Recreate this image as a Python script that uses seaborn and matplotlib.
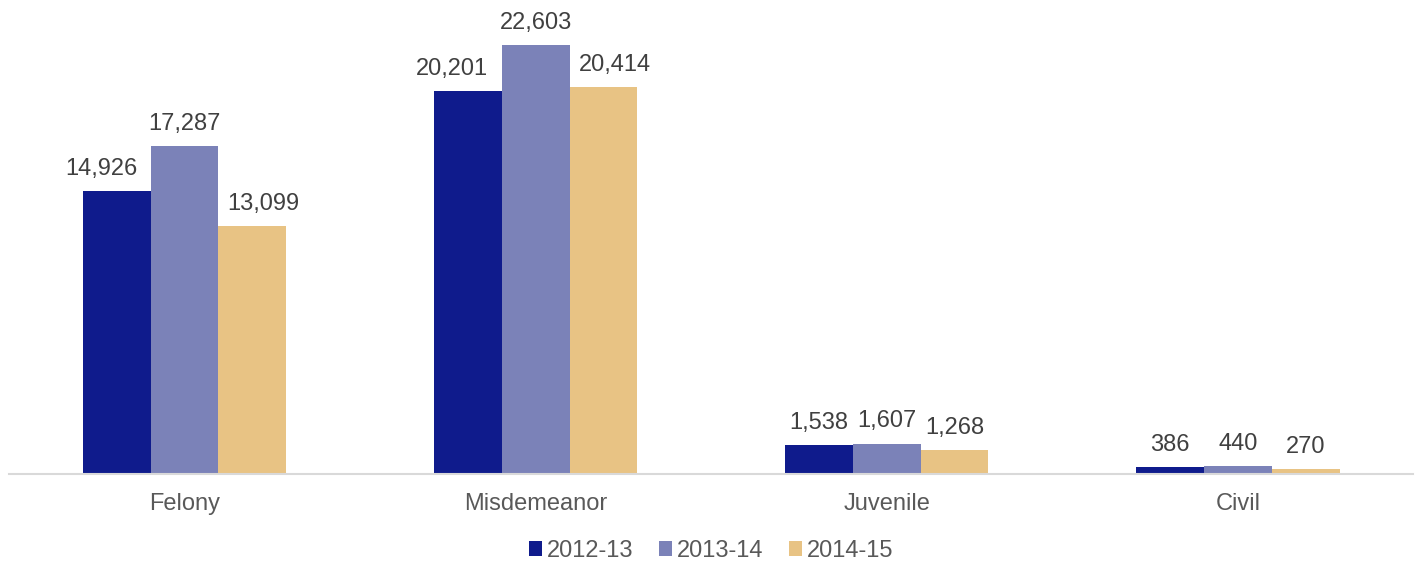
import pandas as pd
import matplotlib.pyplot as plt
import seaborn as sns

# Case counts by type and fiscal year
categories = ['Felony', 'Misdemeanor', 'Juvenile', 'Civil']
years = ['2012-13', '2013-14', '2014-15']
fy2012 = [14926, 20201, 1538, 386]
fy2013 = [17287, 22603, 1607, 440]
fy2014 = [13099, 20414, 1268, 270]
colors = ['#0F1B8C', '#7B82B8', '#E8C384']

rows = []
for year, vals in zip(years, [fy2012, fy2013, fy2014]):
    for cat, v in zip(categories, vals):
        rows.append({'category': cat, 'year': year, 'count': v})
df = pd.DataFrame(rows)

sns.set_style('white')
plt.rcParams['font.family'] = ['Liberation Sans', 'DejaVu Sans']

fig = plt.figure(figsize=(14.19, 5.63), dpi=100)
ax = fig.add_axes([0.0063, 0.158, 0.9897, 0.842])

sns.barplot(data=df, x='category', y='count', hue='year', order=categories,
            hue_order=years, palette=colors, width=0.58, saturation=1,
            edgecolor='none', ax=ax)

# wide labels (5 digits) get nudged outward so they don't collide, like Excel does
nudge = [-11, 0, 8]
for i, container in enumerate(ax.containers):
    anns = ax.bar_label(container, labels=[f'{v:,.0f}' for v in container.datavalues],
                        padding=8, fontsize=17, color='#404040')
    for ann, v in zip(anns, container.datavalues):
        if v >= 10000:
            ann.xyann = (nudge[i], 8)

ax.set_ylim(0, 25000)
ax.set_xlim(-0.5, 3.5)
ax.set_yticks([])
ax.set_xlabel('')
ax.set_ylabel('')
ax.tick_params(axis='x', length=0, labelsize=17, labelcolor='#595959', pad=14)
for side in ['top', 'left', 'right']:
    ax.spines[side].set_visible(False)
ax.spines['bottom'].set_color('#D9D9D9')
ax.spines['bottom'].set_linewidth(1.5)

handles, labels = ax.get_legend_handles_labels()
ax.legend(handles, labels, loc='center', bbox_to_anchor=(0.5, -0.162),
          ncol=3, frameon=False, fontsize=17, handlelength=0.55, handleheight=0.55,
          handletextpad=0.2, columnspacing=1.1, labelcolor='#595959',
          borderpad=0.2)

fig.savefig('out.png', dpi=100)
